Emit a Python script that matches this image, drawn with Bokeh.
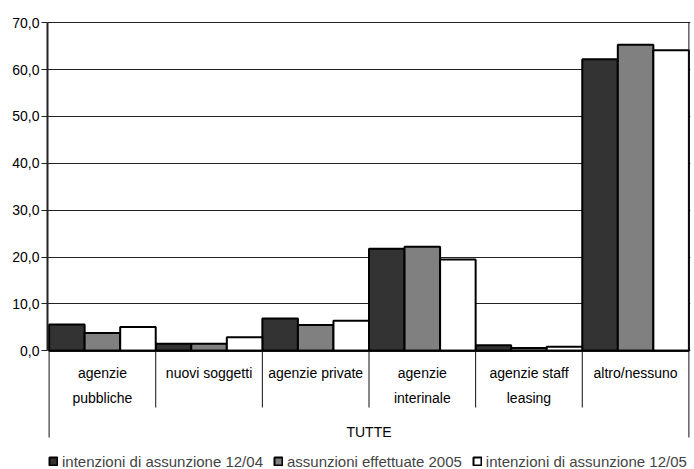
from bokeh.plotting import figure
from bokeh.models import (FactorRange, Range1d, FixedTicker, CustomJSTickFormatter,
                          ColumnDataSource, Legend, LegendItem)
from bokeh.transform import dodge
from bokeh.core.properties import value
from bokeh.embed import file_html
from bokeh.resources import INLINE

# ---- data ----
categories = ["agenzie pubbliche", "nuovi soggetti", "agenzie private",
              "agenzie interinale", "agenzie staff leasing", "altro/nessuno"]
category_labels = ["agenzie\npubbliche", "nuovi soggetti", "agenzie private",
                   "agenzie\ninterinale", "agenzie staff\nleasing", "altro/nessuno"]
group_label = "TUTTE"
series_names = ["intenzioni di assunzione 12/04", "assunzioni effettuate 2005",
                "intenzioni di assunzione 12/05"]
intenzioni_1204 = [5.6, 1.5, 6.9, 21.8, 1.2, 62.2]
assunzioni_2005 = [3.8, 1.5, 5.5, 22.2, 0.6, 65.3]
intenzioni_1205 = [5.1, 2.9, 6.4, 19.5, 0.9, 64.1]
y_ticks = [0, 10, 20, 30, 40, 50, 60, 70]

# ---- layout helpers ----
W, H = 694, 469
TOP, LEFT, RIGHT = 21, 47, 4
Y_END = 70.25
FRAME_H = H - TOP
SCALE = 4.6886
Y_START = Y_END - FRAME_H / SCALE


def py(px):
    """pixel row -> data y"""
    return Y_END - (px - TOP) / SCALE


FONT = "Liberation Sans"

src = ColumnDataSource(dict(cat=categories, lab=category_labels,
                            s1=intenzioni_1204, s2=assunzioni_2005, s3=intenzioni_1205))

p = figure(width=W, height=H, output_backend="svg", toolbar_location=None,
           x_range=FactorRange(factors=categories, range_padding=0.005,
                               range_padding_units="percent"),
           y_range=Range1d(Y_START, Y_END), x_axis_location=None,
           min_border_left=LEFT, min_border_right=RIGHT, min_border_top=TOP,
           min_border_bottom=0)
p.outline_line_color = None
p.background_fill_color = "white"
p.border_fill_color = "white"
p.xgrid.visible = False

p.ygrid.ticker = FixedTicker(ticks=y_ticks)
p.ygrid.grid_line_color = "#222222"
p.ygrid.grid_line_width = 1

ax = p.yaxis[0]
ax.ticker = FixedTicker(ticks=y_ticks)
ax.bounds = (0, 70)
ax.formatter = CustomJSTickFormatter(code="return tick.toFixed(1).replace('.', ',');")
ax.axis_line_width = 2
ax.axis_line_color = "#222222"
ax.major_tick_in = 0
ax.major_tick_out = 6
ax.major_tick_line_color = "#222222"
ax.minor_tick_line_color = None
ax.major_label_standoff = 2
ax.major_label_text_font = FONT
ax.major_label_text_font_size = "14px"
ax.major_label_text_color = "black"

colors = ["#333333", "#808080", "#ffffff"]
offsets = [-1/3, 0, 1/3]
renderers = []
for col, c, off in zip(["s1", "s2", "s3"], colors, offsets):
    r = p.vbar(x=dodge("cat", off, range=p.x_range), top=col, bottom=0, width=1/3,
               source=src, fill_color=c, line_color="black", line_width=2)
    renderers.append(r)

# baseline (category axis line)
base_src = ColumnDataSource(dict(a=[categories[0]], b=[categories[-1]]))
p.segment(x0=dodge("a", -0.5, range=p.x_range), x1=dodge("b", 0.5, range=p.x_range),
          y0=0, y1=0, source=base_src, line_color="black", line_width=2)

# inner separators
sep_src = ColumnDataSource(dict(cat=categories[1:]))
p.segment(x0=dodge("cat", -0.5, range=p.x_range), x1=dodge("cat", -0.5, range=p.x_range),
          y0=0, y1=py(407), source=sep_src, line_color="#111111", line_width=1)
# outer separators
left_src = ColumnDataSource(dict(cat=[categories[0]]))
p.segment(x0=dodge("cat", -0.5, range=p.x_range), x1=dodge("cat", -0.5, range=p.x_range),
          y0=0, y1=py(437), source=left_src, line_color="#111111", line_width=1)
right_src = ColumnDataSource(dict(cat=[categories[-1]]))
p.segment(x0=dodge("cat", 0.5, range=p.x_range), x1=dodge("cat", 0.5, range=p.x_range),
          y0=70, y1=py(437), source=right_src, line_color="#111111", line_width=1)

# category labels
p.text(x="cat", y=py(364), text="lab", source=src, text_align="center",
       text_baseline="top", text_font=value(FONT), text_font_size="14px",
       text_line_height=1.6, text_color="black")

# group label
grp_src = ColumnDataSource(dict(cat=[categories[2]], lab=[group_label]))
p.text(x=dodge("cat", 0.5, range=p.x_range), y=py(431), text="lab", source=grp_src,
       text_align="center", text_baseline="alphabetic", text_font=value(FONT),
       text_font_size="14px", text_color="black")

legend = Legend(items=[LegendItem(label=n, renderers=[r]) for n, r in zip(series_names, renderers)],
                orientation="horizontal", location=(1, -2))
legend.glyph_width = 10
legend.glyph_height = 10
legend.label_standoff = 4
legend.spacing = 10
legend.padding = 0
legend.margin = 0
legend.border_line_color = None
legend.background_fill_alpha = 0
legend.label_text_font = FONT
legend.label_text_font_size = "15px"
legend.label_height = 20
p.add_layout(legend)

open("out.html", "w").write(file_html(p, INLINE))
